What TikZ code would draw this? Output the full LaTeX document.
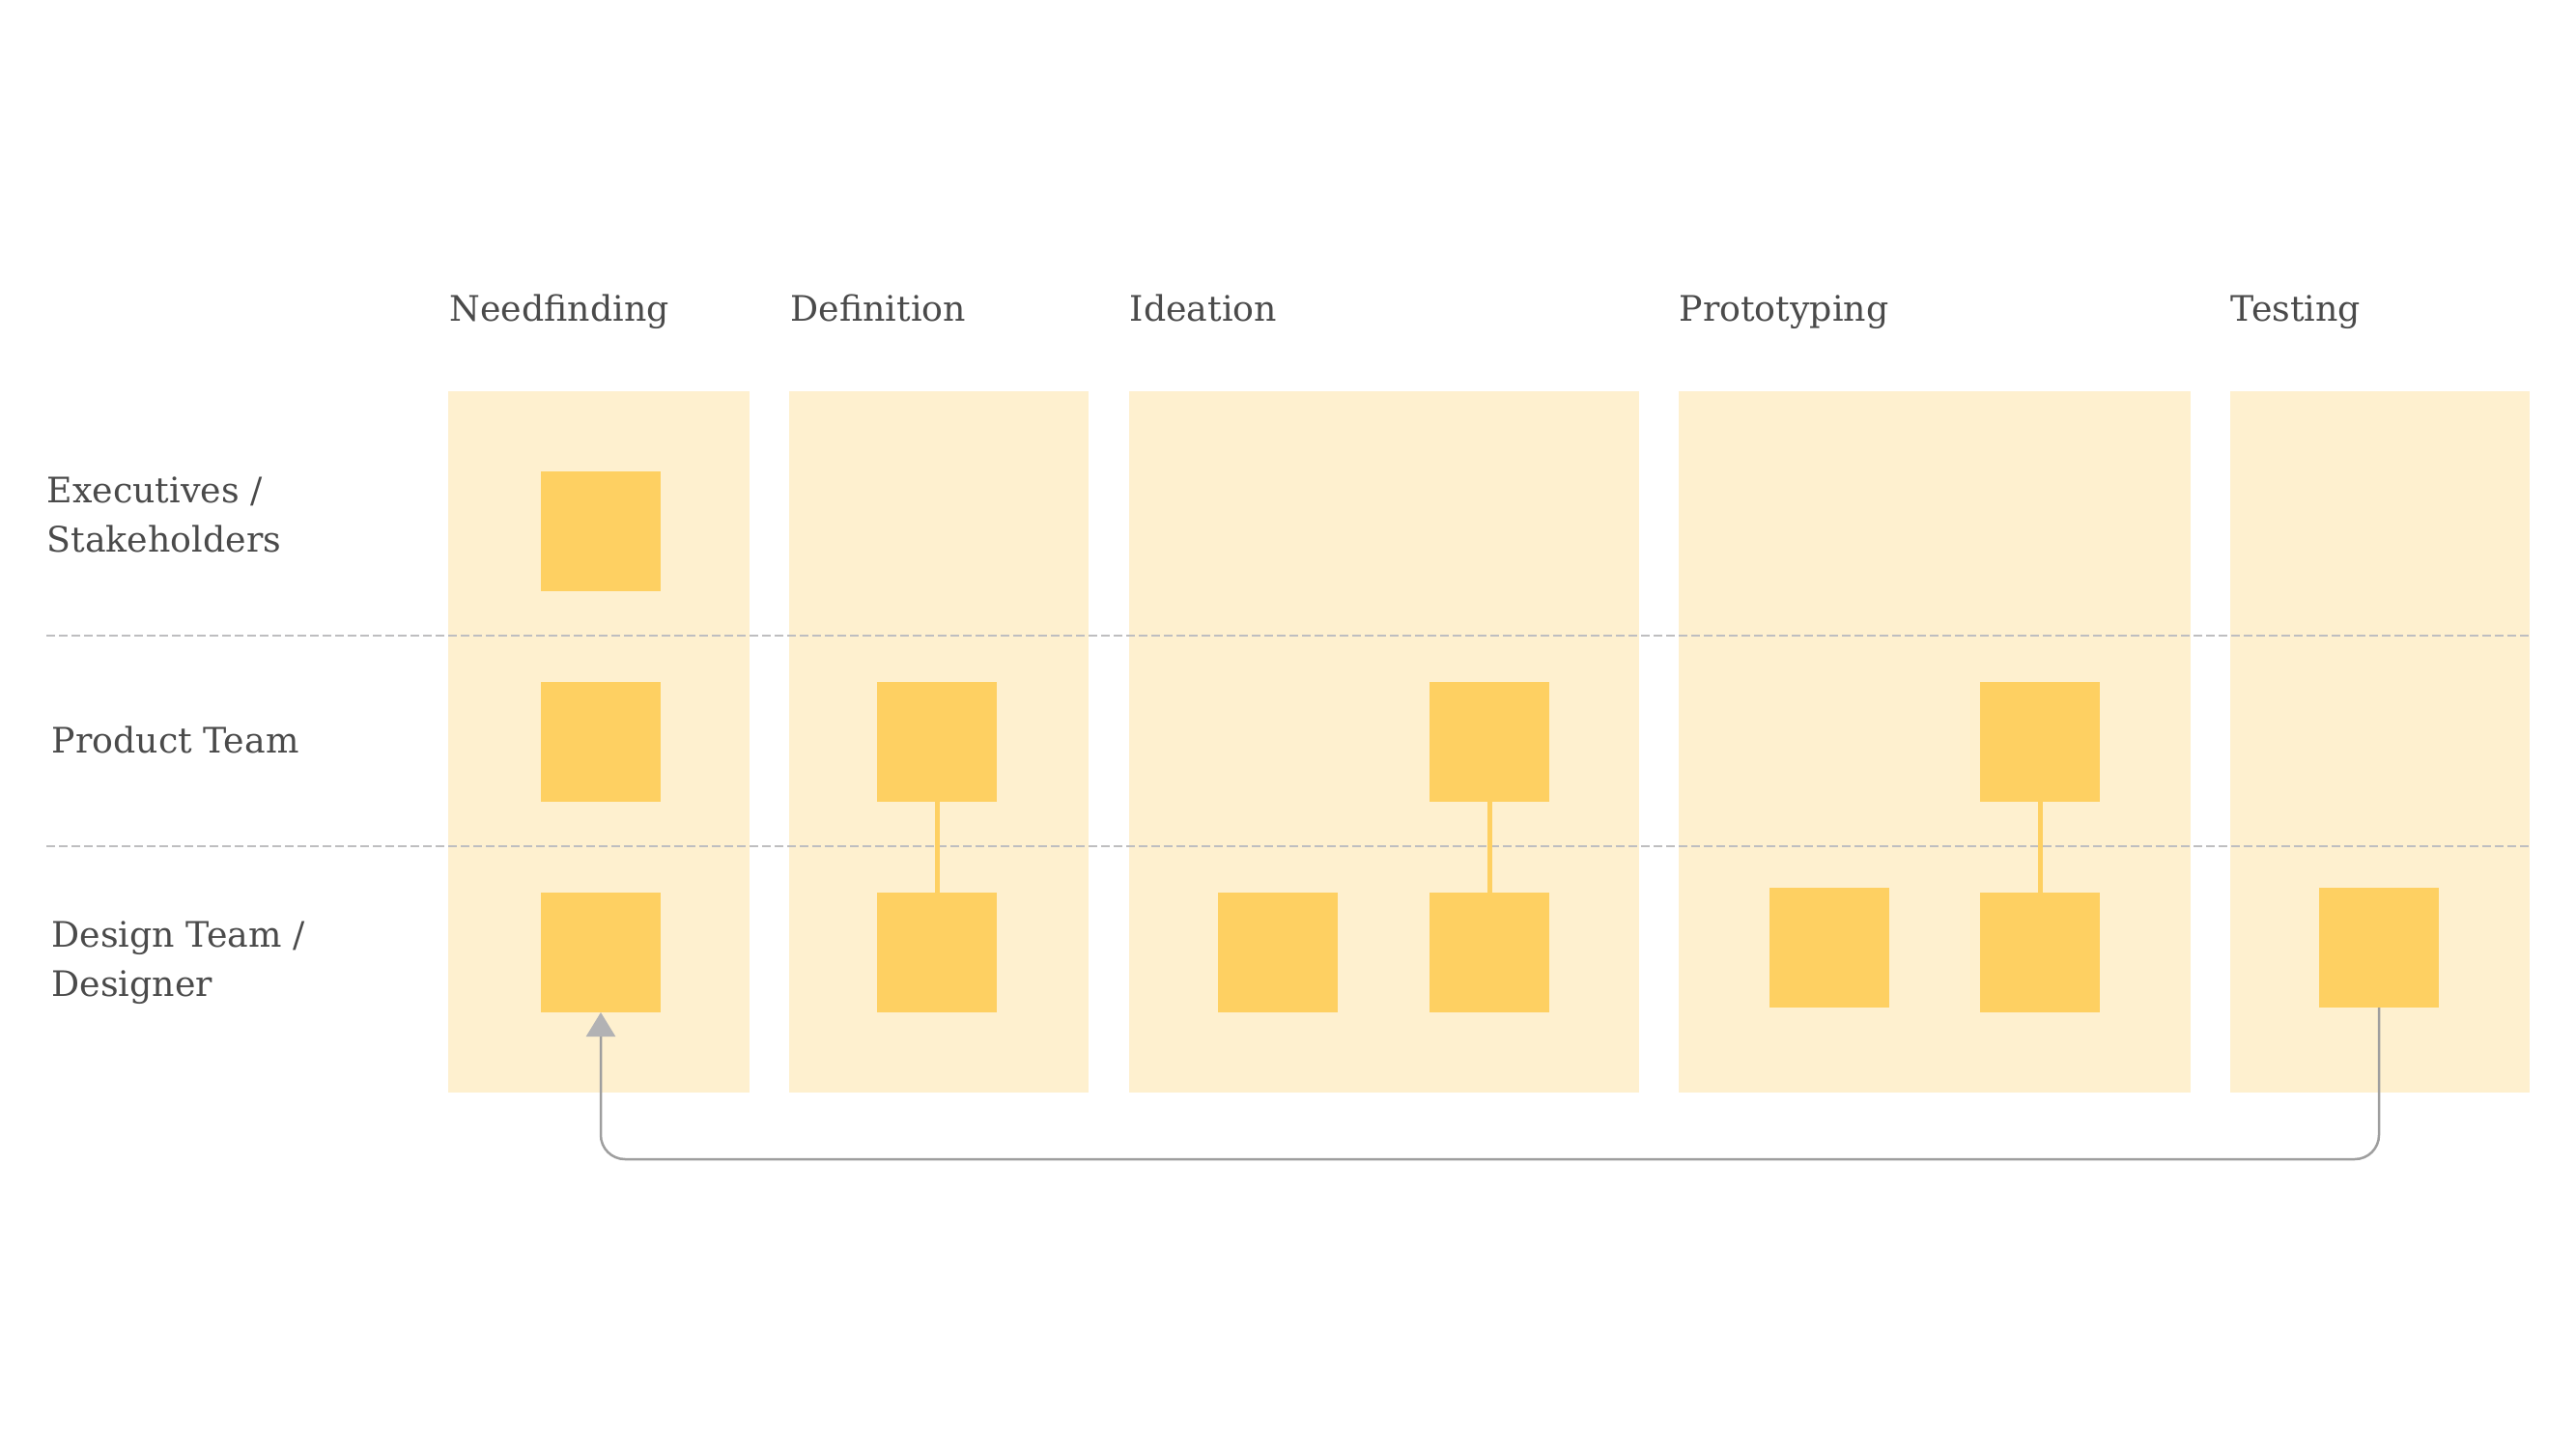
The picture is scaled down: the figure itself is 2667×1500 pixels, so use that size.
\documentclass[tikz,border=0pt]{standalone}
\usepackage{fontspec}
\setmainfont{DejaVu Serif}
\usetikzlibrary{arrows.meta}
\definecolor{colbg}{HTML}{FEF0CF}
\definecolor{sqfill}{HTML}{FED062}
\definecolor{dashgray}{HTML}{BEBEC0}
\definecolor{txtgray}{HTML}{4A4A4A}
\definecolor{fbgray}{HTML}{9E9E9E}
\definecolor{tipgray}{HTML}{B2B2B4}
\tikzset{
  colbox/.style={fill=colbg},
  sq/.style={fill=sqfill, minimum width=37.2pt, minimum height=37.2pt, inner sep=0pt, outer sep=0pt},
  lbl/.style={text=txtgray, font=\fontsize{10.9}{15.3}\selectfont, inner sep=0pt, anchor=base west, align=left},
  lane/.style={draw=dashgray, line width=0.75pt, dash pattern=on 2.7pt off 1.2pt},
  yline/.style={draw=sqfill, line width=1.5pt},
  fb/.style={draw=fbgray, line width=0.75pt, rounded corners=7.5pt, -{Triangle[width=9pt,length=7.5pt,color=tipgray]}}
}
\begin{document}
\begin{tikzpicture}[x=0.3pt,y=-0.3pt]
\useasboundingbox (0,0) rectangle (2667,1500);
% columns
\fill[colbox] (464,405) rectangle (776,1131);
\fill[colbox] (817,405) rectangle (1127,1131);
\fill[colbox] (1169,405) rectangle (1697,1131);
\fill[colbox] (1738,405) rectangle (2268,1131);
\fill[colbox] (2309,405) rectangle (2619,1131);
% lane separators
\draw[lane] (48,658) -- (2619,658);
\draw[lane] (48,876) -- (2619,876);
% headers
\node[lbl] (h1) at (465,333) {Needfinding};
\node[lbl] (h2) at (818,333) {Definition};
\node[lbl] (h3) at (1169,333) {Ideation};
\node[lbl] (h4) at (1738,333) {Prototyping};
\node[lbl] (h5) at (2309,333) {Testing};
% row labels (base anchor = last line)
\node[lbl] (r1) at (48,572) {Executives /\\Stakeholders};
\node[lbl] (r2) at (53,780) {Product Team};
\node[lbl] (r3) at (53,1031) {Design Team /\\Designer};
% squares
\node[sq] (nfe) at (622,550) {};
\node[sq] (nfp) at (622,768) {};
\node[sq] (nfd) at (622,986) {};
\node[sq] (dfp) at (970,768) {};
\node[sq] (dfd) at (970,986) {};
\node[sq] (idd1) at (1323,986) {};
\node[sq] (idp) at (1542,768) {};
\node[sq] (idd2) at (1542,986) {};
\node[sq] (prd1) at (1894,981) {};
\node[sq] (prp) at (2112,768) {};
\node[sq] (prd2) at (2112,986) {};
\node[sq] (tsd) at (2463,981) {};
% connectors
\draw[yline] (dfp.south) -- (dfd.north);
\draw[yline] (idp.south) -- (idd2.north);
\draw[yline] (prp.south) -- (prd2.north);
% feedback loop
\coordinate (fbr) at (2463,1200);
\coordinate (fbl) at (622,1200);
\draw[fb] (tsd.south) -- (fbr) -- (fbl) -- (nfd.south);
\end{tikzpicture}
\end{document}
